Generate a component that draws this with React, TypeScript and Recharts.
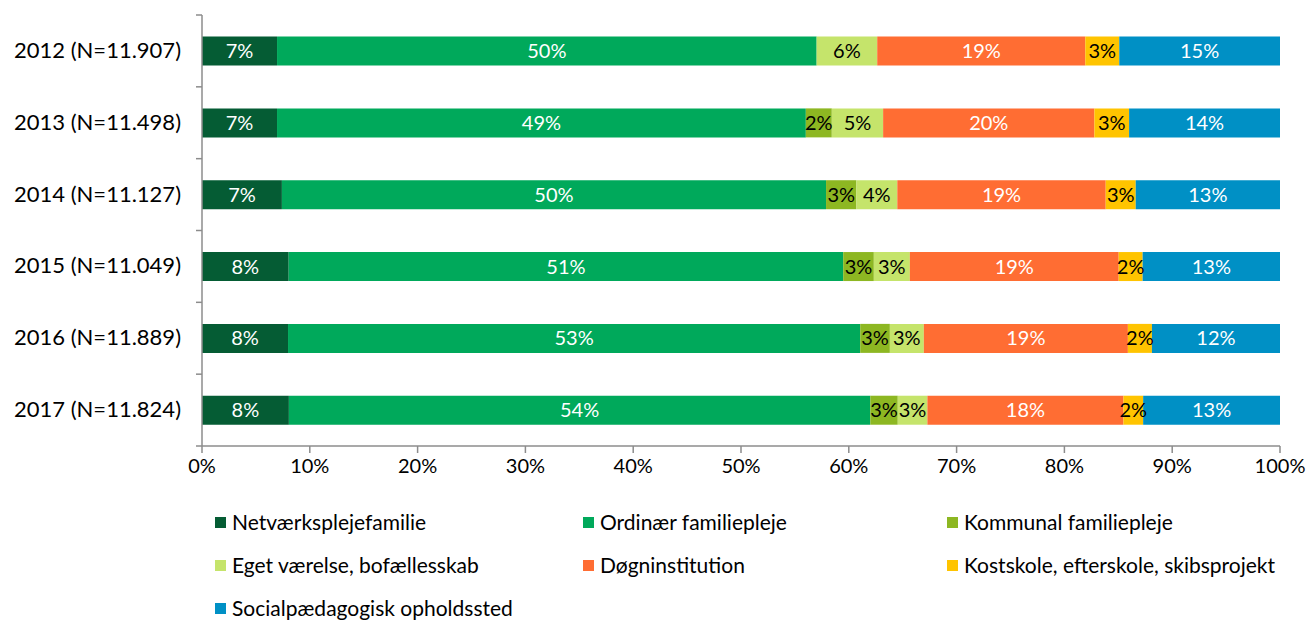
import { Bar, BarChart, LabelList, XAxis, YAxis } from "recharts";

const years = [
  "2012 (N=11.907)",
  "2013 (N=11.498)",
  "2014 (N=11.127)",
  "2015 (N=11.049)",
  "2016 (N=11.889)",
  "2017 (N=11.824)",
];

const netvaerk = [6.96, 6.96, 7.4, 8.04, 7.98, 8.07];
const ordinaer = [50.05, 49.06, 50.39, 51.43, 53.08, 54.0];
const kommunal = [0, 2.41, 2.81, 2.84, 2.75, 2.55];
const eget = [5.62, 4.76, 3.79, 3.34, 3.15, 2.75];
const doegn = [19.3, 19.6, 19.3, 19.37, 18.93, 18.21];
const kost = [3.15, 3.22, 2.78, 2.22, 2.23, 1.83];
const social = [14.91, 14.0, 13.36, 12.74, 11.88, 12.71];

const xTicks = [0, 0.1, 0.2, 0.3, 0.4, 0.5, 0.6, 0.7, 0.8, 0.9, 1];

const series = [
  { key: "netvaerk", name: "Netværksplejefamilie", color: "#055C34", text: "#fff", values: netvaerk },
  { key: "ordinaer", name: "Ordinær familiepleje", color: "#00A95B", text: "#fff", values: ordinaer },
  { key: "kommunal", name: "Kommunal familiepleje", color: "#8DB722", text: "#000", values: kommunal },
  { key: "eget", name: "Eget værelse, bofællesskab", color: "#C5E46B", text: "#000", values: eget },
  { key: "doegn", name: "Døgninstitution", color: "#FF6D33", text: "#fff", values: doegn },
  { key: "kost", name: "Kostskole, efterskole, skibsprojekt", color: "#FFC400", text: "#000", values: kost },
  { key: "social", name: "Socialpædagogisk opholdssted", color: "#0090C5", text: "#fff", values: social },
];

const data = years.map((year, i) => {
  const row: Record<string, string | number> = { year };
  series.forEach((s) => (row[s.key] = s.values[i]));
  return row;
});

const W = 1310;
const H = 622;
const M = { top: 15, right: 30, left: 0, bottom: 136 };
const X_AXIS_H = 40;
const Y_AXIS_W = 202;
const BAND = (H - M.top - M.bottom - X_AXIS_H) / years.length;
const FONT = "Lato, 'Open Sans', sans-serif";
const AXIS = "#8c8c8c";

function YearTick(props: any) {
  const { x, y, payload, index } = props;
  const ax = Y_AXIS_W;
  return (
    <g>
      <line x1={ax - 6} x2={ax} y1={y - BAND / 2} y2={y - BAND / 2} stroke={AXIS} strokeWidth={1.5} />
      {index === years.length - 1 && (
        <line x1={ax - 6} x2={ax} y1={y + BAND / 2} y2={y + BAND / 2} stroke={AXIS} strokeWidth={1.5} />
      )}
      <text x={x - 13} y={y} dy={7} textAnchor="end" fontSize={22} fill="#000" fontFamily={FONT}>
        {payload.value}
      </text>
    </g>
  );
}

export default function App() {
  return (
    <div style={{ position: "absolute", left: 0, top: 0, width: W, height: H, background: "#fff", fontFamily: FONT }}>
      <BarChart
        width={W}
        height={H}
        data={data}
        layout="vertical"
        stackOffset="expand"
        barCategoryGap="30%"
        margin={M}
      >
        <XAxis
          type="number"
          domain={[0, 1]}
          ticks={xTicks}
          tickFormatter={(v: number) => `${Math.round(v * 100)}%`}
          height={X_AXIS_H}
          tickSize={7}
          tickMargin={6}
          axisLine={{ stroke: AXIS, strokeWidth: 1.5 }}
          tickLine={{ stroke: AXIS, strokeWidth: 1.5 }}
          tick={{ fontSize: 20, fill: "#000", fontFamily: FONT }}
        />
        <YAxis
          type="category"
          dataKey="year"
          width={Y_AXIS_W}
          tickLine={false}
          axisLine={{ stroke: AXIS, strokeWidth: 1.5 }}
          tick={<YearTick />}
          interval={0}
        />
        {series.map((s) => (
          <Bar key={s.key} dataKey={s.key} name={s.name} stackId="a" fill={s.color} isAnimationActive={false}>
            <LabelList
              dataKey={s.key}
              position="center"
              fill={s.text}
              fontSize={20}
              fontFamily={FONT}
              formatter={(v: any) => (Number(v) > 0 ? `${Math.round(Number(v))}%` : "")}
            />
          </Bar>
        ))}
      </BarChart>
      <div
        style={{
          position: "absolute",
          left: 215,
          top: 510,
          display: "grid",
          gridTemplateColumns: "368px 364px 360px",
          rowGap: 19,
          fontSize: 21,
          lineHeight: "24px",
          color: "#000",
        }}
      >
        {series.map((s) => (
          <div key={s.key} style={{ display: "flex", alignItems: "center", whiteSpace: "nowrap" }}>
            <span style={{ width: 11, height: 11, background: s.color, marginRight: 6, display: "inline-block" }} />
            {s.name}
          </div>
        ))}
      </div>
    </div>
  );
}
